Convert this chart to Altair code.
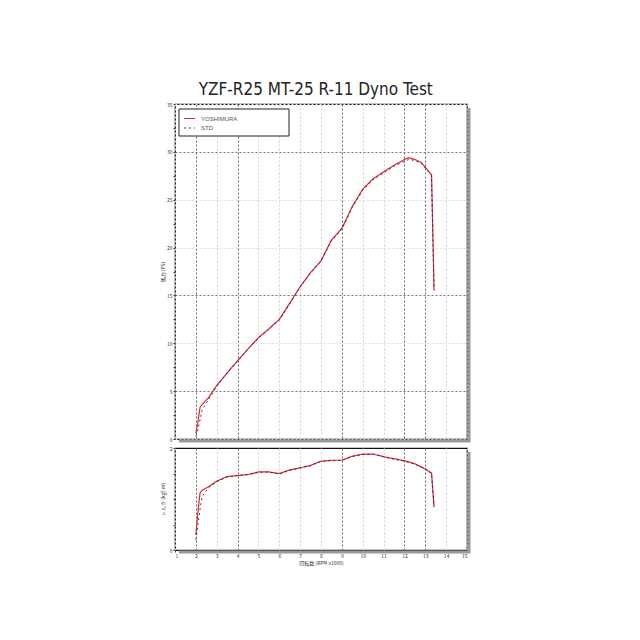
import altair as alt
import pandas as pd

# engine speed (x1000 rpm)
rpm = [2.0, 2.1, 2.2, 2.3, 2.6, 3.0, 3.5, 4.0, 4.5, 5.0, 5.5, 6.0, 6.5, 7.0, 7.5,
       8.0, 8.5, 9.0, 9.5, 10.0, 10.5, 11.0, 11.5, 12.0, 12.2, 12.5, 12.8, 13.0, 13.3, 13.42]

# power (PS)
ps_yoshimura = [0.6, 1.8, 3.3, 3.6, 4.3, 5.6, 6.9, 8.2, 9.4, 10.6, 11.5, 12.5, 14.2, 15.9, 17.4,
                18.6, 20.8, 22.0, 24.3, 26.1, 27.2, 27.9, 28.6, 29.2, 29.4, 29.2, 28.9, 28.4, 27.6, 15.5]
ps_std = [0.3, 1.0, 2.0, 3.0, 4.1, 5.5, 6.9, 8.1, 9.4, 10.5, 11.5, 12.4, 14.1, 15.9, 17.3,
          18.6, 20.7, 21.9, 24.2, 26.0, 27.1, 27.8, 28.5, 29.0, 29.2, 29.1, 28.8, 28.3, 27.5, 15.6]

# torque (kgf-m)
kgfm_yoshimura = [0.3, 0.75, 1.12, 1.17, 1.24, 1.35, 1.44, 1.46, 1.48, 1.53, 1.53, 1.50, 1.57, 1.61, 1.66,
                  1.74, 1.76, 1.76, 1.84, 1.88, 1.88, 1.83, 1.79, 1.75, 1.73, 1.69, 1.63, 1.59, 1.51, 0.84]
kgfm_std = [0.2, 0.5, 0.8, 1.05, 1.22, 1.34, 1.43, 1.46, 1.48, 1.52, 1.53, 1.49, 1.56, 1.61, 1.65,
            1.74, 1.75, 1.76, 1.83, 1.87, 1.88, 1.83, 1.78, 1.74, 1.72, 1.68, 1.63, 1.58, 1.50, 0.86]

series = ["YOSHIMURA", "STD"]
colors = ["#e3262b", "#22235e"]
dashes = [[1, 0], [2, 3]]

x_ticks = [1 + 0.25 * i for i in range(57)]
ps_ticks = [2.5 * i for i in range(15)]
kgfm_ticks = [0, 0.5, 1, 1.5, 2]

rows = []
for i, r in enumerate(rpm):
    rows.append({"rpm": r, "series": "YOSHIMURA", "ps": ps_yoshimura[i], "kgfm": kgfm_yoshimura[i]})
    rows.append({"rpm": r, "series": "STD", "ps": ps_std[i], "kgfm": kgfm_std[i]})
df = pd.DataFrame(rows)

W = 292
H_TOP = 335
H_BOT = 102

x_grid_color = {"condition": {"test": "indexof([2,4,9,12,13], datum.value) >= 0", "value": "#666"},
                "value": "#d4d4d4"}
x_grid_op = {"condition": {"test": "datum.value % 1 != 0", "value": 0}, "value": 1}
y_grid_color = {"condition": {"test": "indexof([5,15,30], datum.value) >= 0", "value": "#777"},
                "value": "#dddddd"}
y_grid_op = {"condition": {"test": "datum.value % 5 != 0", "value": 0}, "value": 1}

color = alt.Color("series:N", scale=alt.Scale(domain=series, range=colors),
                  legend=alt.Legend(title=None, orient="none", legendX=8, legendY=8,
                                    padding=0, labelFontSize=6, labelColor="#555",
                                    symbolType="stroke", symbolSize=120, symbolStrokeWidth=1,
                                    rowPadding=0, labelOffset=5))
dash = alt.StrokeDash("series:N", scale=alt.Scale(domain=series, range=dashes), legend=None)
width = alt.StrokeWidth("series:N", scale=alt.Scale(domain=series, range=[1.2, 0.9]), legend=None)

one = pd.DataFrame({"k": [0]})


def shadows(h):
    right = alt.Chart(one).mark_rule(color="#9a9a9a", strokeWidth=3).encode(
        x=alt.value(W + 2), y=alt.value(4), y2=alt.value(h + 3))
    bottom = alt.Chart(one).mark_rule(color="#9a9a9a", strokeWidth=3).encode(
        x=alt.value(4), x2=alt.value(W + 3), y=alt.value(h + 2))
    return right + bottom


legend_box = alt.Chart(one).mark_rect(fill="white", stroke="#222", strokeWidth=1).encode(
    x=alt.value(4), x2=alt.value(114), y=alt.value(5), y2=alt.value(32))

power = alt.Chart(df).mark_line().encode(
    x=alt.X("rpm:Q", scale=alt.Scale(domain=[1, 15], nice=False),
            axis=alt.Axis(values=x_ticks, labels=False, ticks=False, domain=False, title=None,
                          gridColor=x_grid_color, gridOpacity=x_grid_op, gridDash=[2, 2])),
    y=alt.Y("ps:Q", scale=alt.Scale(domain=[0, 35], nice=False),
            axis=alt.Axis(values=ps_ticks, title="馬力 (PS)",
                          labelExpr="datum.value % 5 == 0 ? datum.label : ''",
                          gridColor=y_grid_color, gridOpacity=y_grid_op, gridDash=[2, 2])),
    color=color,
    strokeDash=dash,
    strokeWidth=width,
    order=alt.Order("rpm:Q"),
).properties(width=W, height=H_TOP)

torque = alt.Chart(df).mark_line().encode(
    x=alt.X("rpm:Q", scale=alt.Scale(domain=[1, 15], nice=False),
            axis=alt.Axis(values=x_ticks, title="回転数 (RPM x1000)",
                          labelExpr="datum.value % 1 == 0 ? format(datum.value, 'd') : ''",
                          gridColor=x_grid_color, gridOpacity=x_grid_op, gridDash=[2, 2])),
    y=alt.Y("kgfm:Q", scale=alt.Scale(domain=[0, 2], nice=False),
            axis=alt.Axis(values=kgfm_ticks, title="トルク (kgf-m)", grid=False,
                          labelExpr="datum.value == 0 || datum.value == 2 ? format(datum.value, 'd') : ''")),
    color=alt.Color("series:N", scale=alt.Scale(domain=series, range=colors), legend=None),
    strokeDash=dash,
    strokeWidth=width,
    order=alt.Order("rpm:Q"),
).properties(width=W, height=H_BOT)

chart = alt.vconcat(
    alt.layer(legend_box, power, shadows(H_TOP)),
    alt.layer(torque, shadows(H_BOT)),
    spacing=0,
).properties(
    title=alt.TitleParams("YZF-R25 MT-25 R-11 Dyno Test", fontSize=17, fontWeight="normal",
                          font="DejaVu Sans Condensed, Liberation Sans Narrow, sans-serif",
                          color="#222", anchor="middle", offset=2),
    padding={"left": 151, "top": 73, "right": 10, "bottom": 10},
).configure_view(
    stroke="#111", strokeWidth=1.2
).configure_axis(
    labelFontSize=5, labelColor="#333", titleFontSize=5, titleColor="#333",
    titleFontWeight="normal", tickSize=2, tickColor="#444", labelPadding=1,
    titlePadding=2, domain=False, labelFont="Noto Sans CJK JP", titleFont="Noto Sans CJK JP"
).configure_axisY(
    minExtent=8, maxExtent=8
).configure_axisX(
    minExtent=0
)

chart.save("out.html", embed_options={"renderer": "svg", "actions": False})
